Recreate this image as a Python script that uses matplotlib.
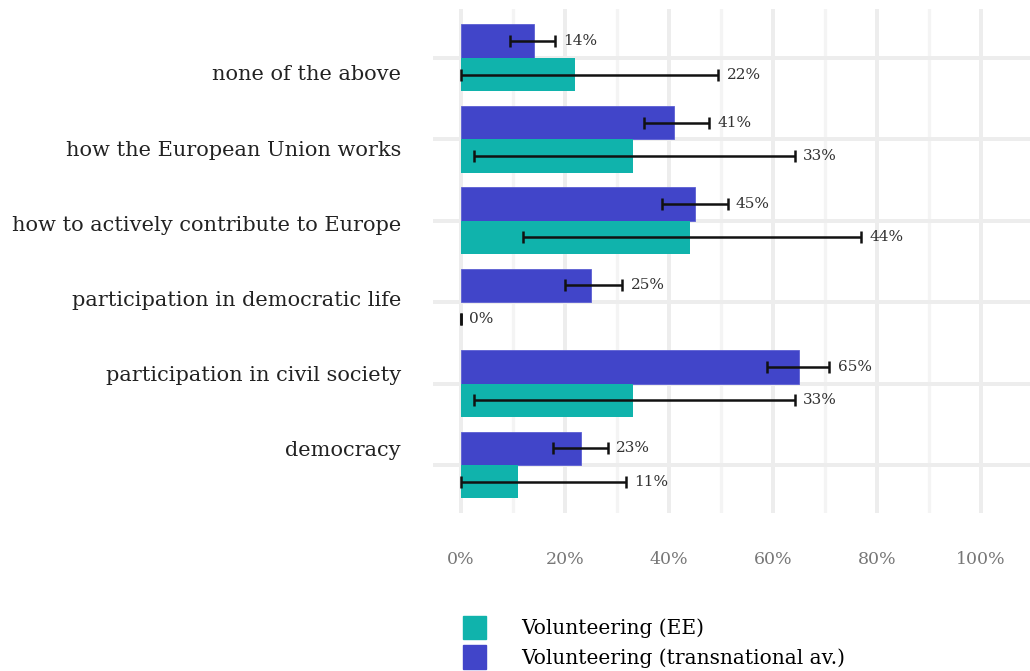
import numpy as np
import matplotlib.pyplot as plt
from matplotlib.patches import Patch

# categories, bottom to top
categories = ['democracy', 'participation in civil society',
              'participation in democratic life',
              'how to actively contribute to Europe',
              'how the European Union works', 'none of the above']

# Volunteering (EE)
ee_values = [11, 33, 0, 44, 33, 22]
ee_low = [0, 2.5, 0, 12, 2.5, 0]
ee_high = [31.8, 64.2, 0, 77, 64.2, 49.5]

# Volunteering (transnational av.)
tn_values = [23, 65, 25, 45, 41, 14]
tn_low = [17.7, 58.8, 20, 38.7, 35.3, 9.4]
tn_high = [28.3, 70.9, 31, 51.3, 47.8, 18.1]

x_ticks = [0, 20, 40, 60, 80, 100]

teal = '#10b3ac'
blue = '#4145c9'

plt.rcParams['font.family'] = ['DejaVu Serif']

fig = plt.figure(figsize=(10.30, 6.71), dpi=100)
ax = fig.add_axes([433 / 1030, 1 - 513 / 671, 597 / 1030, 504 / 671])

y = np.arange(len(categories))
h = 0.41

ax.barh(y + h / 2, tn_values, height=h, color=blue, edgecolor='#5c5fd3',
        linewidth=0.6, zorder=2)
ax.barh(y - h / 2, ee_values, height=h, color=teal, zorder=2)

# error bars
for vals, lo, hi, off in [(tn_values, tn_low, tn_high, h / 2),
                          (ee_values, ee_low, ee_high, -h / 2)]:
    vals = np.array(vals, dtype=float)
    lo = np.array(lo)
    hi = np.array(hi)
    centre = (lo + hi) / 2
    ax.errorbar(centre, y + off, xerr=(hi - lo) / 2, fmt='none',
                ecolor='#111111', elinewidth=1.8, capsize=4, capthick=1.8,
                zorder=3)
    for yi, v, top in zip(y + off, vals, hi):
        ax.annotate(f'{v:.0f}%', (top, yi), xytext=(6, 0),
                    textcoords='offset points', va='center', ha='left',
                    fontsize=11, color='#333333')

# grid
ax.set_xlim(-5.4, 109.5)
ax.set_ylim(-0.59, 5.6)
ax.set_xticks(x_ticks)
ax.set_xticks(np.arange(10, 110, 20), minor=True)
ax.set_xticklabels([f'{t}%' for t in x_ticks], fontsize=12.5, color='#777777')
ax.set_yticks(y)
ax.set_yticklabels([])
ax.grid(which='major', axis='x', color='#ededed', linewidth=2.8, zorder=0)
ax.grid(which='minor', axis='x', color='#f4f4f4', linewidth=2.3, zorder=0)
ax.grid(which='major', axis='y', color='#ededed', linewidth=2.8, zorder=0)
ax.tick_params(axis='both', which='both', length=0)
ax.tick_params(axis='x', pad=27)
for s in ax.spines.values():
    s.set_visible(False)

# category labels (spacing differs from the bar rows in the original)
label_y = np.linspace(451, 75, len(categories))
for lab, py in zip(categories, label_y):
    fig.text(401 / 1030, 1 - py / 671, lab, ha='right', va='center',
             fontsize=15.0, color='#222222')

handles = [Patch(color=teal), Patch(color=blue)]
fig.legend(handles, ['Volunteering (EE)', 'Volunteering (transnational av.)'],
           loc='upper left', bbox_to_anchor=(463 / 1030, 1 - 616 / 671),
           frameon=False, fontsize=14.5, handlelength=1.15, handleheight=1.4,
           handletextpad=1.75, labelspacing=0.3, borderaxespad=0,
           borderpad=0)

fig.savefig('out.png', dpi=100)
